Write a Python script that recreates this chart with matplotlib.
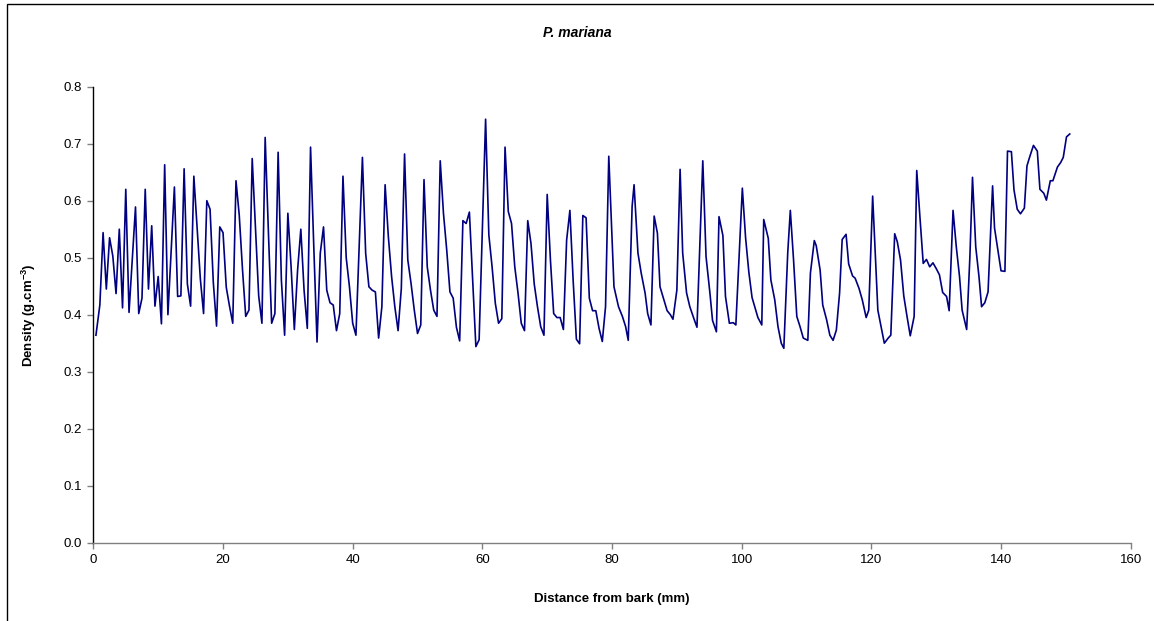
import matplotlib
matplotlib.use("Agg")
import matplotlib.pyplot as plt
from matplotlib.patches import Rectangle

plt.rcParams['font.family'] = ['Liberation Sans', 'DejaVu Sans']
plt.rcParams['mathtext.fontset'] = 'custom'
plt.rcParams['mathtext.rm'] = 'Liberation Sans'
plt.rcParams['mathtext.bf'] = 'Liberation Sans:bold'

# distance from bark (mm) and density (g/cm3)
distance = [
    0.4, 1.0, 1.5, 2.0, 2.5, 3.0, 3.5, 4.0, 4.5, 5.0, 5.5, 6.5, 7.0, 7.5, 8.0, 8.5,
    9.0, 9.5, 10.0, 10.5, 11.0, 11.5, 12.5, 13.0, 13.5, 14.0, 14.5, 15.0, 15.5,
    16.5, 17.0, 17.5, 18.0, 18.5, 19.0, 19.5,
    20.0, 20.5, 21.0, 21.5, 22.0, 22.5, 23.0, 23.5, 24.0, 24.5, 25.0, 25.5, 26.0,
    26.5, 27.0, 27.5, 28.0, 28.5, 29.0, 29.5, 30.0, 30.5, 31.0, 31.5, 32.0, 32.5,
    33.0, 33.5, 34.0, 34.5, 35.0, 35.5, 36.0, 36.5, 37.0, 37.5, 38.0, 38.5, 39.0,
    39.5,
    40.0, 40.5, 41.0, 41.5, 42.0, 42.5, 43.0, 43.5, 44.0, 44.5, 45.0, 45.5, 46.0,
    46.5, 47.0, 47.5, 48.0, 48.5, 49.0, 49.5, 50.0, 50.5, 51.0, 51.5, 52.0, 52.5,
    53.0, 53.5, 54.0, 54.5, 55.0, 55.5, 56.0, 56.5, 57.0, 57.5, 58.0, 58.5, 59.0,
    59.5,
    60.5, 61.0, 61.5, 62.0, 62.5, 63.0, 63.5, 64.0, 64.5, 65.0, 65.5, 66.0,
    66.5, 67.0, 67.5, 68.0, 68.5, 69.0, 69.5, 70.0, 70.5, 71.0, 71.5, 72.0, 72.5,
    73.0, 73.5, 74.0, 74.5, 75.0, 75.5, 76.0, 76.5, 77.0, 77.5, 78.0, 78.5, 79.0,
    79.5,
    80.3, 81.0, 81.6, 82.1, 82.5, 83.1, 83.4, 84.0, 84.5, 85.1, 85.5, 86.0, 86.5,
    87.0, 87.4, 88.0, 88.5, 89.0, 89.4, 90.0, 90.5, 90.9, 91.5, 92.0, 92.6, 93.1,
    94.0, 94.5, 95.1, 95.5, 96.1, 96.5, 97.1, 97.5, 98.1, 98.7, 99.1,
    100.1, 100.6, 101.1, 101.6, 102.5, 103.1, 103.4, 104.1, 104.5, 105.1, 105.6,
    106.1, 106.5, 107.1, 107.5, 108.0, 108.5, 109.0, 109.5, 110.2, 110.6, 111.2,
    111.5, 112.1, 112.5, 113.1, 113.6, 114.1, 114.6, 115.1, 115.5, 116.1, 116.5,
    117.1, 117.5, 118.1, 118.6, 119.2, 119.6,
    120.2, 121.0, 121.5, 122.0, 122.6, 123.0, 123.6, 124.0, 124.5, 125.0, 125.5,
    126.0, 126.6, 127.0, 127.5, 128.0, 128.5, 129.0, 129.5, 130.0, 130.5, 131.0,
    131.6, 132.0, 132.6, 133.1, 133.6, 134.0, 134.7, 135.2, 135.6, 136.1, 136.6,
    137.0, 137.5, 138.0, 138.7,
    139.0, 139.5, 140.0, 140.6, 141.0, 141.6, 142.0, 142.5, 143.0, 143.6, 144.0,
    144.4, 145.0, 145.6, 146.0, 146.6, 147.0, 147.6, 148.0, 148.7, 149.2, 149.6,
    150.1, 150.6,
]

density = [
    0.364, 0.417, 0.544, 0.445, 0.535, 0.503, 0.437, 0.550, 0.412, 0.620, 0.404,
    0.589, 0.402, 0.429, 0.620, 0.445, 0.556, 0.415, 0.467, 0.384, 0.663, 0.400,
    0.624, 0.432, 0.433, 0.656, 0.454, 0.415, 0.643, 0.463, 0.402, 0.600, 0.585,
    0.457, 0.380, 0.554,
    0.544, 0.448, 0.415, 0.385, 0.635, 0.575, 0.480, 0.397, 0.408, 0.674, 0.555,
    0.433, 0.385, 0.711, 0.545, 0.385, 0.402, 0.685, 0.461, 0.364, 0.578, 0.484,
    0.374, 0.478, 0.550, 0.443, 0.376, 0.694, 0.519, 0.352, 0.508, 0.554, 0.443,
    0.421, 0.417, 0.372, 0.402, 0.643, 0.500, 0.449,
    0.385, 0.364, 0.520, 0.676, 0.508, 0.449, 0.443, 0.440, 0.359, 0.414, 0.628,
    0.537, 0.467, 0.414, 0.372, 0.446, 0.682, 0.496, 0.455, 0.408, 0.367, 0.382,
    0.637, 0.484, 0.443, 0.408, 0.397, 0.670, 0.578, 0.514, 0.440, 0.429, 0.378,
    0.354, 0.565, 0.560, 0.580, 0.461, 0.344, 0.356,
    0.743, 0.540, 0.484, 0.420, 0.385, 0.393, 0.694, 0.581, 0.560, 0.484,
    0.438, 0.385, 0.372, 0.565, 0.525, 0.454, 0.414, 0.379, 0.364, 0.611, 0.496,
    0.402, 0.395, 0.395, 0.374, 0.531, 0.583, 0.461, 0.357, 0.349, 0.574, 0.570,
    0.429, 0.407, 0.407, 0.376, 0.353, 0.414, 0.678,
    0.449, 0.414, 0.397, 0.379, 0.355, 0.590, 0.628, 0.508, 0.473, 0.438, 0.402,
    0.382, 0.573, 0.543, 0.449, 0.426, 0.407, 0.400, 0.392, 0.443, 0.655, 0.508,
    0.438, 0.414, 0.394, 0.378, 0.670, 0.502, 0.438, 0.390, 0.370, 0.572, 0.539,
    0.432, 0.385, 0.386, 0.382,
    0.622, 0.535, 0.475, 0.430, 0.395, 0.382, 0.567, 0.534, 0.461, 0.426, 0.379,
    0.350, 0.341, 0.508, 0.583, 0.496, 0.397, 0.379, 0.359, 0.355, 0.473, 0.530,
    0.521, 0.478, 0.417, 0.391, 0.364, 0.355, 0.373, 0.438, 0.532, 0.541, 0.489,
    0.468, 0.464, 0.446, 0.426, 0.395, 0.408,
    0.608, 0.408, 0.379, 0.350, 0.359, 0.364, 0.542, 0.528, 0.496, 0.433, 0.397,
    0.363, 0.397, 0.653, 0.570, 0.490, 0.497, 0.484, 0.491, 0.481, 0.470, 0.439,
    0.432, 0.407, 0.583, 0.519, 0.467, 0.408, 0.374, 0.502, 0.641, 0.519, 0.467,
    0.414, 0.421, 0.440, 0.626,
    0.552, 0.514, 0.477, 0.476, 0.687, 0.686, 0.619, 0.585, 0.577, 0.587, 0.661,
    0.676, 0.697, 0.687, 0.620, 0.613, 0.601, 0.635, 0.635, 0.659, 0.667, 0.676,
    0.712, 0.717,
]

fig = plt.figure(figsize=(11.54, 6.21), dpi=100)
ax = fig.add_axes([0.0809, 0.1261, 0.8989, 0.7343])

ax.plot(distance, density, color='#000080', lw=1.2)

ax.set_xlim(0, 160)
ax.set_ylim(0, 0.8)
ax.set_xticks(range(0, 161, 20))
ax.set_yticks([i / 10 for i in range(9)])
ax.set_yticklabels(['%.1f' % (i / 10) for i in range(9)])

for s in ['top', 'right']:
    ax.spines[s].set_visible(False)
ax.spines['left'].set_color('black')
ax.spines['left'].set_linewidth(1.0)
ax.spines['bottom'].set_color('#808080')
ax.spines['bottom'].set_linewidth(1.0)
ax.tick_params(direction='out', length=4, width=1, color='#808080',
               labelsize=9.5, labelcolor='black', pad=4)

ax.set_xlabel('Distance from bark (mm)', fontsize=9.5, fontweight='bold')
ax.set_ylabel(r'Density (g.cm$^{\mathbf{-3}}$)', fontsize=9.5, fontweight='bold')
ax.xaxis.set_label_coords(0.5, -0.110)
ax.yaxis.set_label_coords(-0.0534, 0.5)

fig.text(0.5, 0.947, 'P. mariana', ha='center', va='center',
         fontsize=10, fontweight='bold', fontstyle='italic')

# outer chart border
fig.patches.append(Rectangle((7 / 1154, -0.05), 1.2, 1.05 - 4 / 621,
                             transform=fig.transFigure, fill=False,
                             edgecolor='black', lw=1.0))

fig.savefig('out.png', dpi=100)
